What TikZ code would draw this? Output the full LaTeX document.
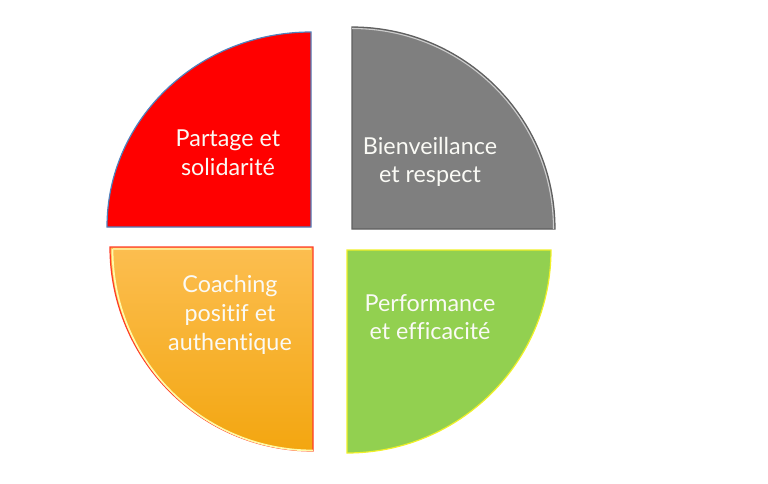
\documentclass[tikz,border=0pt]{standalone}
\usepackage{fontspec}
\setmainfont[Ligatures={NoCommon,NoContextual}]{Lato}
\definecolor{partRed}{RGB}{255,0,0}
\definecolor{partBlue}{RGB}{79,129,189}
\definecolor{bienGray}{RGB}{127,127,127}
\definecolor{bienEdge}{RGB}{95,95,95}
\definecolor{coachTop}{RGB}{252,190,80}
\definecolor{coachBot}{RGB}{243,166,16}
\definecolor{coachEdge}{RGB}{255,60,40}
\definecolor{coachLight}{RGB}{255,250,170}
\definecolor{perfGreen}{RGB}{146,208,80}
\definecolor{perfEdge}{RGB}{240,240,40}
\definecolor{labelWhite}{RGB}{250,250,245}

\tikzset{every picture/.style={line width=0.75pt}}
\tikzset{
  quarterLabel/.style={inner sep=0.75pt, align=center, text=labelWhite, font=\fontsize{17.5}{21.5}\selectfont},
}

\begin{document}
\begin{tikzpicture}[x=0.75pt,y=0.75pt,yscale=-1,xscale=1]
\useasboundingbox (0,0) rectangle (768,483);

%Shape: Quarter [id:partage]
\draw [draw=partBlue, fill=partRed, line width=0.9pt] (311,227) -- (107,227) arc [start angle=180, end angle=270, x radius=204, y radius=195] -- cycle ;
%Shape: Quarter [id:bienveillance]
\draw [draw=bienEdge, fill=bienGray, line width=0.9pt] (352,229) -- (352,27) arc [start angle=270, end angle=360, x radius=203, y radius=202] -- cycle ;
\draw [draw=white!60!bienGray, line width=0.8pt] (352,28.5) arc [start angle=270, end angle=360, x radius=201.5, y radius=200.5] ;
%Shape: Quarter [id:coaching]
\draw [draw=coachEdge, top color=coachTop, bottom color=coachBot, line width=0.9pt] (313,247) -- (110,247) arc [start angle=180, end angle=90, x radius=203, y radius=204] -- cycle ;
\draw [draw=coachLight, line width=1.3pt] (112.5,249) arc [start angle=180, end angle=90, x radius=200.5, y radius=201.5] ;
\draw [draw=coachLight!70!coachTop, line width=1.3pt] (112.5,249) -- (311,249) ;
%Shape: Quarter [id:performance]
\draw [draw=perfEdge, fill=perfGreen, line width=0.9pt] (347,250) -- (551,250) arc [start angle=0, end angle=90, x radius=204, y radius=203] -- cycle ;

% Text Node
\node [quarterLabel] (partage) at (228,153) {Partage et\\solidarité};
% Text Node
\node [quarterLabel] (bienveillance) at (430,162) {Bienveillance\\et respect};
% Text Node
\node [quarterLabel] (coaching) at (230,315) {Coaching\\positif et\\authentique};
% Text Node
\node [quarterLabel] (performance) at (430,317) {Performance\\et efficacité};

\end{tikzpicture}
\end{document}
